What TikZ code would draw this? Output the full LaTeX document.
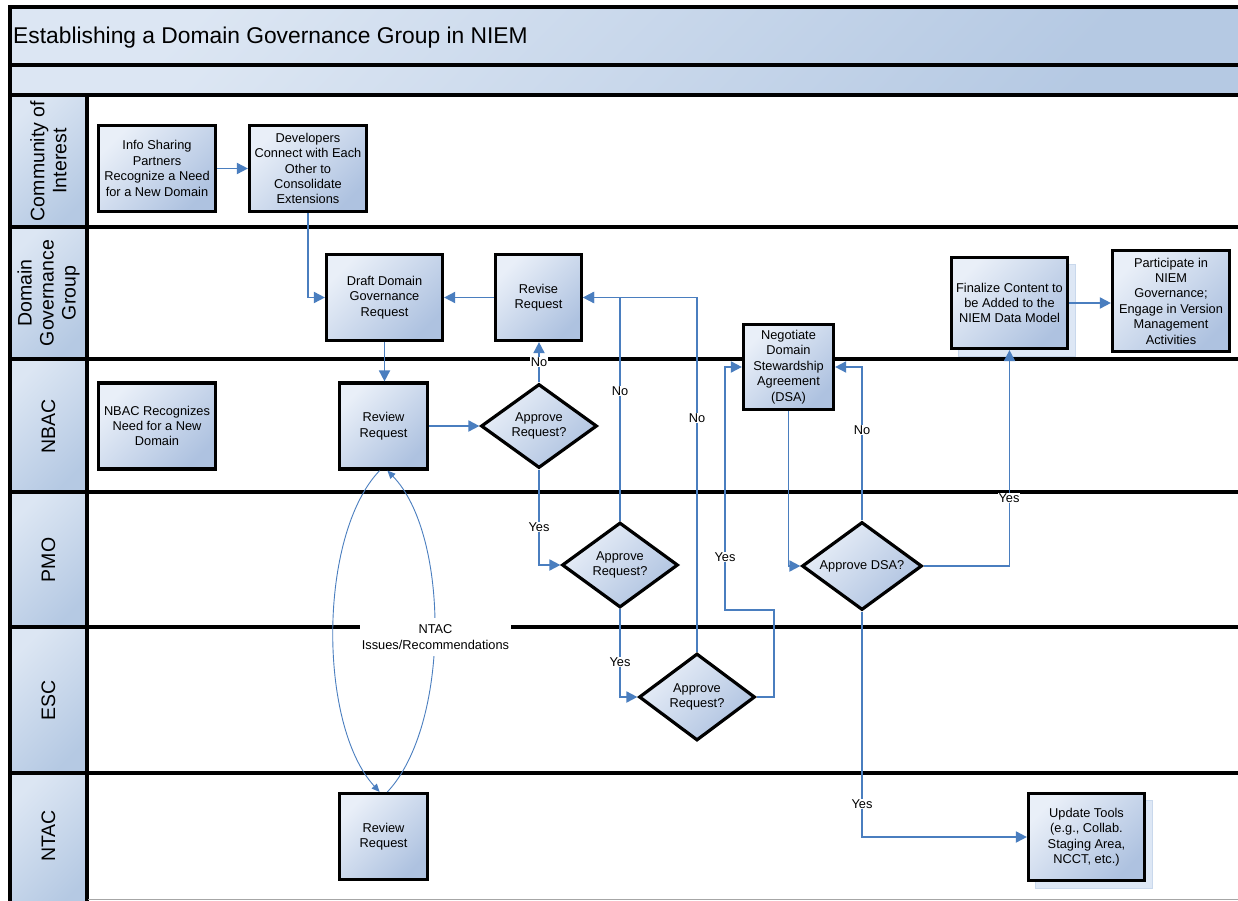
\documentclass[tikz,border=0pt]{standalone}
\usepackage{fontspec}
\setmainfont{Liberation Sans}
\usetikzlibrary{shapes.geometric,arrows.meta}
\definecolor{boxlight}{HTML}{E9EFF8}
\definecolor{boxdark}{HTML}{AEC2E0}
\definecolor{bandlight}{HTML}{DCE6F3}
\definecolor{banddark}{HTML}{B5C9E3}
\definecolor{flowblue}{HTML}{4A7EBF}
\definecolor{shadowfill}{HTML}{DDE7F5}
\definecolor{shadowline}{HTML}{C9D8EC}
\begin{document}
\begin{tikzpicture}[x=1pt,y=-1pt,
  boxfont/.style={font=\fontsize{12.8}{15.4}\selectfont},
  gfill/.style={top color=boxlight, bottom color=boxdark, shading angle=45},
  proc/.style={rectangle, draw=black, line width=3.2pt, gfill, inner sep=0pt, align=center, boxfont},
  dia/.style={diamond, draw=black, line width=3.2pt, gfill, inner sep=0pt},
  diatext/.style={align=center, boxfont, inner sep=0pt},
  shadowbox/.style={rectangle, fill=shadowfill, draw=shadowline, line width=0.8pt, inner sep=0pt},
  bandfill/.style={draw=black, line width=3.3pt, top color=bandlight, bottom color=banddark, shading angle=45},
  lanetext/.style={rotate=90, align=center, font=\fontsize{19.5}{22}\selectfont, inner sep=0pt},
  flow/.style={draw=flowblue, line width=1.8pt, -{Triangle[length=11pt,width=11pt]}},
  thinflow/.style={draw=flowblue, line width=0.9pt, -{Triangle[length=8pt,width=7pt]}},
  lbl/.style={fill=white, inner sep=1pt, boxfont},
  laneline/.style={draw=black, line width=3.3pt},
]
\fill[white] (0,0) rectangle (1238,901);
\useasboundingbox (0,0) rectangle (1238,901);
\clip (0,0) rectangle (1238,901);

% header bands
\path[bandfill] (10,7) rectangle (1260,65);
\path[bandfill] (10,65) rectangle (1260,95);
\node[anchor=west, font=\fontsize{22.8}{27}\selectfont, inner sep=0pt] (title) at (13,38) {Establishing a Domain Governance Group in NIEM};

% lane column
\path[bandfill] (10,95) rectangle (87,227);
\path[bandfill] (10,227) rectangle (87,359);
\path[bandfill] (10,359) rectangle (87,492);
\path[bandfill] (10,492) rectangle (87,627);
\path[bandfill] (10,627) rectangle (87,773);
\path[bandfill] (10,773) rectangle (87,910);
\draw[laneline] (87,227) -- (1260,227);
\draw[laneline] (87,359) -- (1260,359);
\draw[laneline] (87,492) -- (1260,492);
\draw[laneline] (87,627) -- (1260,627);
\draw[laneline] (87,773) -- (1260,773);
\draw[gray!70, line width=1pt] (88,899.5) -- (1260,899.5);

\node[lanetext] (lcoi) at (48.5,161) {Community of\\Interest};
\node[lanetext] (ldgg) at (48.5,293) {Domain\\Governance\\Group};
\node[lanetext] (lnbac) at (48.5,426) {NBAC};
\node[lanetext] (lpmo) at (48.5,560) {PMO};
\node[lanetext] (lesc) at (48.5,700) {ESC};
\node[lanetext] (lntac) at (48.5,836) {NTAC};

% process boxes
\node[proc, minimum width=117pt, minimum height=86pt] (info) at (157,168.5) {Info Sharing\\Partners\\Recognize a Need\\for a New Domain};
\node[proc, minimum width=117pt, minimum height=86pt] (dev) at (308,168.5) {Developers\\Connect with Each\\Other to\\Consolidate\\Extensions};
\node[proc, minimum width=116pt, minimum height=86pt] (draft) at (384.5,297.5) {Draft Domain\\Governance\\Request};
\node[proc, minimum width=86pt, minimum height=86pt] (revise) at (538.5,297.5) {Revise\\Request};
\node[proc, minimum width=117pt, minimum height=86pt] (nbacrec) at (157,426) {NBAC Recognizes\\Need for a New\\Domain};
\node[proc, minimum width=88pt, minimum height=86pt] (review1) at (383.5,426) {Review\\Request};
\node[proc, minimum width=90pt, minimum height=85pt] (dsa) at (788.5,367) {Negotiate\\Domain\\Stewardship\\Agreement\\(DSA)};
\node[shadowbox, minimum width=117pt, minimum height=92pt] (finshadow) at (1016.5,310) {};
\node[proc, minimum width=116pt, minimum height=91pt] (finalize) at (1009.5,303) {Finalize Content to\\be Added to the\\NIEM Data Model};
\node[proc, minimum width=117pt, minimum height=101pt] (participate) at (1171,301) {Participate in\\NIEM\\Governance;\\Engage in Version\\Management\\Activities};
\node[proc, minimum width=88pt, minimum height=86pt] (review2) at (383.5,836.5) {Review\\Request};
\node[shadowbox, minimum width=117pt, minimum height=88pt] (updshadow) at (1093.5,844) {};
\node[proc, minimum width=116pt, minimum height=87pt] (update) at (1086.5,837) {Update Tools\\(e.g., Collab.\\Staging Area,\\NCCT, etc.)};

% decisions
\node[dia, minimum width=116pt, minimum height=84pt] (d1) at (539,426) {};
\node[diatext] (d1t) at (d1) {Approve\\Request?};
\node[dia, minimum width=116pt, minimum height=85pt] (d2) at (620,565) {};
\node[diatext] (d2t) at (d2) {Approve\\Request?};
\node[dia, minimum width=116pt, minimum height=87pt] (d3) at (697,697) {};
\node[diatext] (d3t) at (d3) {Approve\\Request?};
\node[dia, minimum width=120pt, minimum height=88pt] (d4) at (862,566) {};
\node[diatext] (d4t) at (d4) {Approve DSA?};

% junction points
\coordinate (j1) at (774,610);
\coordinate (j2) at (725,610);

% connectors
\draw[flow] (info.east) -- (info.east -| dev.west);
\draw[flow] (dev.south) |- (draft.west);
\draw[flow] (draft.south) -- (draft.south |- review1.north);
\draw[flow] (revise.west) -- (revise.west -| draft.east);
\draw[flow] (review1.east) -- (review1.east -| d1.west);
\draw[flow] (d1.north) -- (d1.north |- revise.south);
\draw[flow] (d1.south) |- (d2.west);
\draw[flow] (d2.north) |- (revise.east);
\draw[flow] (d2.south) |- (d3.west);
\draw[flow] (d3.north) |- (revise.east);
\draw[flow] (d3.east) -| (j1) -- (j2) |- (dsa.west);
\draw[flow] (dsa.south) |- (d4.west);
\draw[flow] (d4.north) |- (dsa.east);
\draw[flow] (d4.east) -| (finalize.south);
\draw[flow] (finalize.east) -- (finalize.east -| participate.west);
\draw[flow] (d4.south) |- (update.west);

% NTAC loop
\draw[thinflow] (review1.265) .. controls (318,535) and (318,725) .. (review2.95);
\draw[thinflow] (review2.85) .. controls (450,725) and (450,535) .. (review1.275);

% labels
\node[lbl] (no1) at (539,362) {No};
\node[lbl] (yes1) at (539,527) {Yes};
\node[lbl] (no2) at (620,391) {No};
\node[lbl] (yes2) at (620,662) {Yes};
\node[lbl] (no3) at (697,418) {No};
\node[lbl] (yes3) at (725,557) {Yes};
\node[lbl] (no4) at (862,430) {No};
\node[lbl] (yes4) at (1009,498) {Yes};
\node[lbl] (yes5) at (862,804) {Yes};
\node[fill=white, inner sep=0pt, minimum width=151pt, minimum height=38pt, align=center, boxfont] (ntaclbl) at (435.5,637) {NTAC\\Issues/Recommendations};
\end{tikzpicture}
\end{document}
